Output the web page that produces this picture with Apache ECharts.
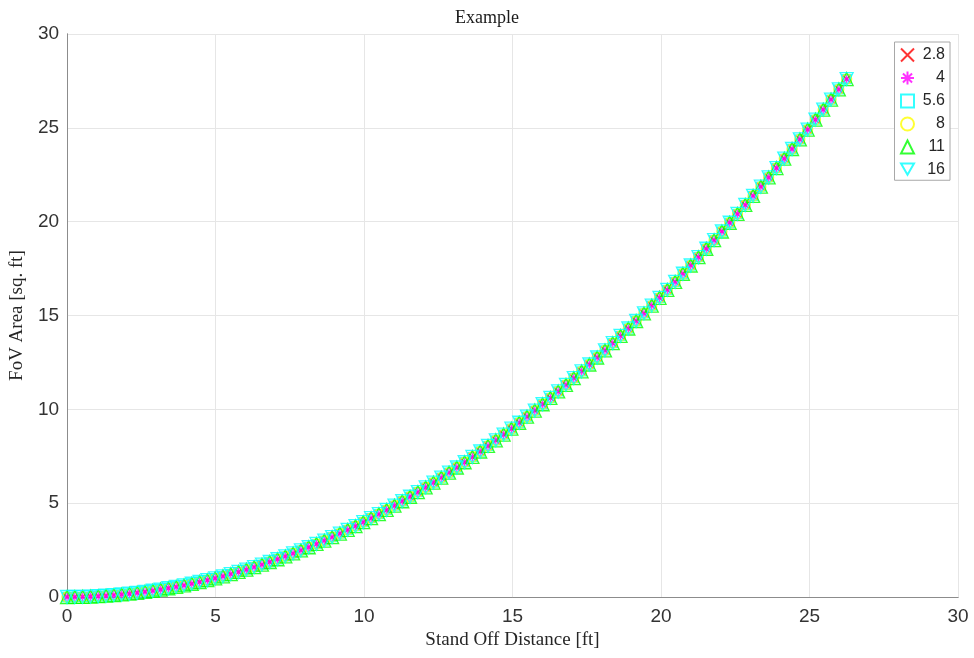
<!DOCTYPE html>
<html>
<head>
<meta charset="utf-8">
<title>Example</title>
<script src="https://cdn.jsdelivr.net/npm/echarts@6/dist/echarts.min.js"></script>
<style>
  html, body { margin: 0; padding: 0; background: #ffffff; }
  #chart { width: 974px; height: 658px; }
</style>
</head>
<body>
<div id="chart"></div>
<script>
// Stand-off distance samples [ft]
const standOff = [
  0, 0.2625, 0.525, 0.7875, 1.05, 1.3125, 1.575, 1.8375, 2.1, 2.3625,
  2.625, 2.8875, 3.15, 3.4125, 3.675, 3.9375, 4.2, 4.4625, 4.725, 4.9875,
  5.25, 5.5125, 5.775, 6.0375, 6.3, 6.5625, 6.825, 7.0875, 7.35, 7.6125,
  7.875, 8.1375, 8.4, 8.6625, 8.925, 9.1875, 9.45, 9.7125, 9.975, 10.2375,
  10.5, 10.7625, 11.025, 11.2875, 11.55, 11.8125, 12.075, 12.3375, 12.6, 12.8625,
  13.125, 13.3875, 13.65, 13.9125, 14.175, 14.4375, 14.7, 14.9625, 15.225, 15.4875,
  15.75, 16.0125, 16.275, 16.5375, 16.8, 17.0625, 17.325, 17.5875, 17.85, 18.1125,
  18.375, 18.6375, 18.9, 19.1625, 19.425, 19.6875, 19.95, 20.2125, 20.475, 20.7375,
  21.0, 21.2625, 21.525, 21.7875, 22.05, 22.3125, 22.575, 22.8375, 23.1, 23.3625,
  23.625, 23.8875, 24.15, 24.4125, 24.675, 24.9375, 25.2, 25.4625, 25.725, 25.9875,
  26.25
];

// Field-of-view area [sq. ft] (identical for every aperture)
const fovArea = [
  0, 0.003, 0.011, 0.025, 0.044, 0.069, 0.099, 0.135, 0.177, 0.224,
  0.276, 0.334, 0.397, 0.466, 0.541, 0.621, 0.707, 0.798, 0.894, 0.996,
  1.104, 1.217, 1.336, 1.460, 1.590, 1.725, 1.866, 2.012, 2.164, 2.321,
  2.484, 2.652, 2.826, 3.006, 3.191, 3.381, 3.577, 3.778, 3.985, 4.198,
  4.416, 4.640, 4.869, 5.103, 5.343, 5.589, 5.840, 6.097, 6.359, 6.627,
  6.900, 7.179, 7.463, 7.753, 8.048, 8.349, 8.655, 8.967, 9.285, 9.608,
  9.936, 10.270, 10.609, 10.954, 11.305, 11.661, 12.023, 12.390, 12.762, 13.140,
  13.524, 13.913, 14.308, 14.708, 15.114, 15.525, 15.942, 16.364, 16.792, 17.225,
  17.664, 18.108, 18.558, 19.014, 19.475, 19.941, 20.413, 20.890, 21.373, 21.862,
  22.356, 22.856, 23.361, 23.871, 24.387, 24.909, 25.436, 25.969, 26.507, 27.051,
  27.600
];

// Aperture (f-number) labels
const apertures = ['2.8', '4', '5.6', '8', '11', '16'];

// Tick values
const xTicks = [0, 5, 10, 15, 20, 25, 30];
const yTicks = [0, 5, 10, 15, 20, 25, 30];

// Marker styles per aperture (hollow, line-drawn)
const markerStyles = [
  { symbol: 'path://M0,0L10,10M10,0L0,10', size: 8, color: '#ff0000' },
  { symbol: 'path://M5,0L5,10M0,5L10,5M1.5,1.5L8.5,8.5M8.5,1.5L1.5,8.5', size: 9, color: '#ff00ff' },
  { symbol: 'rect', size: 9, color: '#00ffff' },
  { symbol: 'circle', size: 10, color: '#ffff00' },
  { symbol: 'triangle', size: 13, color: '#00ff00' },
  { symbol: 'path://M0,0L10,0L5,8.66Z', size: 13, color: '#00ffff' }
];

const points = standOff.map((x, i) => [x, fovArea[i]]);

const series = apertures.map((name, k) => ({
  name: name,
  type: 'scatter',
  data: points,
  symbol: markerStyles[k].symbol,
  symbolSize: markerStyles[k].size,
  itemStyle: {
    color: 'none',
    borderColor: markerStyles[k].color,
    borderWidth: 1.3
  },
  emphasis: { disabled: true },
  animation: false,
  xAxisIndex: 0,
  yAxisIndex: 0,
  z: 2 + k
}));

const sansFont = 'Liberation Sans, Arial, sans-serif';
const tickFont = { fontFamily: sansFont, fontSize: 19, color: '#333333' };
const serifFont = 'Liberation Serif, DejaVu Serif, serif';
const boxLine = { show: true, lineStyle: { color: '#8c8c8c', width: 1 } };

const chart = echarts.init(document.getElementById('chart'), null, { renderer: 'canvas' });

chart.setOption({
  backgroundColor: '#ffffff',
  animation: false,
  title: {
    text: 'Example',
    left: 'center',
    top: 4,
    textStyle: { fontFamily: serifFont, fontSize: 18, fontWeight: 'normal', color: '#1a1a1a' }
  },
  grid: { left: 66, right: 16, top: 34, bottom: 61, containLabel: false },
  legend: {
    orient: 'vertical',
    right: 24,
    top: 42,
    data: apertures,
    itemWidth: 13,
    itemHeight: 13,
    itemGap: 5,
    padding: [4, 5, 3, 4],
    backgroundColor: '#ffffff',
    borderColor: '#a8a8a8',
    borderWidth: 1,
    formatter: '{v|{name}}',
    textStyle: {
      fontFamily: sansFont,
      fontSize: 16,
      color: '#262626',
      rich: { v: { width: 26, align: 'right', fontSize: 16, fontFamily: sansFont, color: '#262626' } }
    }
  },
  xAxis: [
    {
      type: 'value',
      min: 0, max: 30, interval: 5,
      position: 'bottom',
      name: 'Stand Off Distance [ft]',
      nameLocation: 'middle',
      nameGap: 34,
      nameTextStyle: { fontFamily: serifFont, fontSize: 19, color: '#262626' },
      axisLine: boxLine,
      axisTick: { show: false },
      axisLabel: Object.assign({ margin: 10, formatter: v => (xTicks.indexOf(v) >= 0 ? String(v) : '') }, tickFont),
      splitLine: { show: true, lineStyle: { color: '#e6e6e6', width: 1 } }
    },
    {
      type: 'value',
      min: 0, max: 30, interval: 5,
      position: 'top',
      axisLine: boxLine,
      axisTick: { show: false },
      axisLabel: { show: false },
      splitLine: { show: false }
    }
  ],
  yAxis: [
    {
      type: 'value',
      min: 0, max: 30, interval: 5,
      position: 'left',
      name: 'FoV Area [sq. ft]',
      nameLocation: 'middle',
      nameGap: 40,
      nameRotate: 90,
      nameTextStyle: { fontFamily: serifFont, fontSize: 19, color: '#262626' },
      axisLine: boxLine,
      axisTick: { show: false },
      axisLabel: Object.assign({ margin: 8, formatter: v => (yTicks.indexOf(v) >= 0 ? String(v) : '') }, tickFont),
      splitLine: { show: true, lineStyle: { color: '#e6e6e6', width: 1 } }
    },
    {
      type: 'value',
      min: 0, max: 30, interval: 5,
      position: 'right',
      axisLine: boxLine,
      axisTick: { show: false },
      axisLabel: { show: false },
      splitLine: { show: false }
    }
  ],
  series: series
});
</script>
</body>
</html>
